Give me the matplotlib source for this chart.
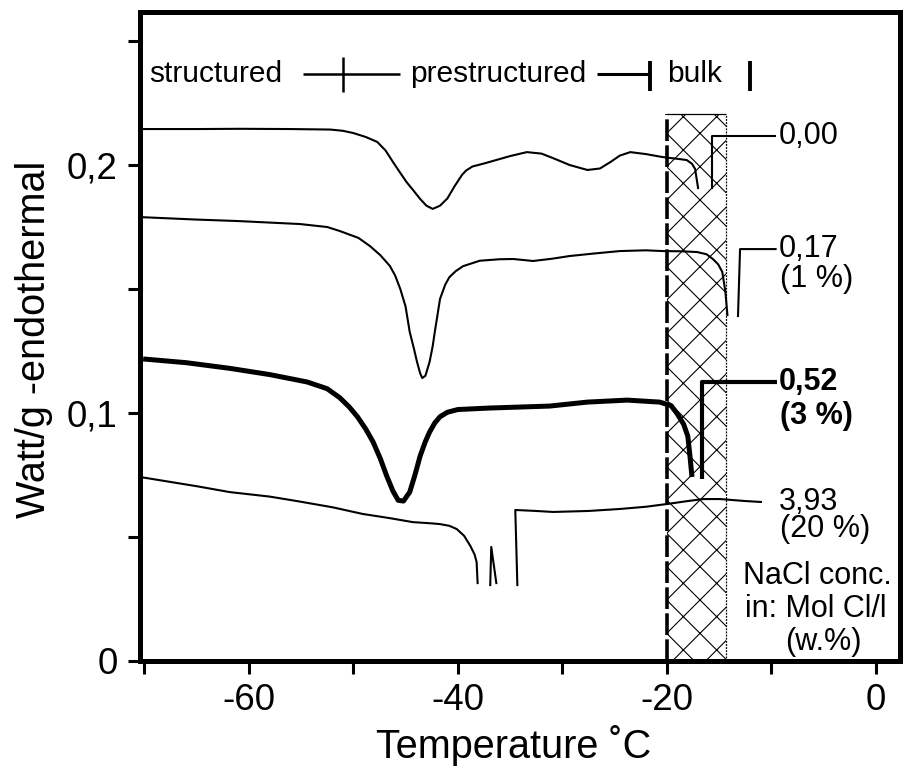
import matplotlib
matplotlib.use("Agg")
import matplotlib.pyplot as plt
from matplotlib.patches import Rectangle

plt.rcParams['font.family'] = ['Liberation Sans', 'DejaVu Sans']
plt.rcParams['hatch.linewidth'] = 0.8
plt.rcParams['lines.solid_joinstyle'] = 'round'
plt.rcParams['lines.solid_capstyle'] = 'butt'

# ---- data (temperature in °C, heat flow in W/g) ----
x_000 = [-70.4, -65.0, -60.8, -56.0, -52.2, -51.0, -50.0, -48.8, -47.7, -46.9, -46.2, -45.5,
         -44.9, -44.2, -43.6, -43.0, -42.4, -41.7, -41.0, -40.3, -39.6, -39.2, -38.6, -37.5,
         -36.5, -35.0, -33.4, -32.0, -30.9, -29.3, -27.6, -26.4, -25.4, -24.5, -23.5,
         -22.0, -20.4, -19.0, -18.1, -17.6, -17.3, -17.0]
y_000 = [0.2145, 0.2145, 0.2146, 0.2145, 0.2143, 0.2138, 0.2129, 0.2113, 0.2093, 0.2058, 0.2012, 0.1968,
         0.1931, 0.1895, 0.1863, 0.1836, 0.1823, 0.1836, 0.1865, 0.1915, 0.1960, 0.1978, 0.1994, 0.2006,
         0.2018, 0.2036, 0.2052, 0.2046, 0.2028, 0.2000, 0.1980, 0.1986, 0.2012, 0.2038, 0.2052,
         0.2044, 0.2032, 0.2025, 0.2020, 0.2005, 0.1984, 0.1903]

x_017 = [-70.4, -65.0, -61.0, -55.1, -52.5, -51.3, -49.5, -48.4, -47.4, -46.5, -46.0, -45.5, -45.0,
         -44.6, -44.2, -43.9, -43.6, -43.4, -43.1, -42.7, -42.4, -42.2, -41.7, -41.2, -40.8, -40.2,
         -39.5, -37.9, -36.0, -34.7, -32.8, -31.0, -29.3, -27.0, -24.5, -22.0, -20.4, -18.5,
         -17.1, -16.2, -15.6, -15.1, -14.7, -14.4, -14.2]
y_017 = [0.1790, 0.1780, 0.1774, 0.1762, 0.1750, 0.1734, 0.1706, 0.1673, 0.1636, 0.1593, 0.1555, 0.1500, 0.1430,
         0.1327, 0.1260, 0.1206, 0.1160, 0.1141, 0.1150, 0.1206, 0.1270, 0.1327, 0.1460, 0.1518, 0.1548, 0.1572,
         0.1592, 0.1614, 0.1620, 0.1621, 0.1613, 0.1622, 0.1633, 0.1643, 0.1653, 0.1656, 0.1653, 0.1652,
         0.1649, 0.1640, 0.1621, 0.1600, 0.1569, 0.1488, 0.1391]

x_052 = [-70.1, -66.0, -61.8, -58.0, -54.4, -52.5, -51.3, -50.4, -49.6, -48.8, -48.1, -47.4,
         -46.8, -46.2, -45.7, -45.2, -44.6, -44.1, -43.6, -43.1, -42.7, -42.2, -41.7, -41.0,
         -40.0, -37.0, -34.1, -31.2, -27.6, -23.8, -20.7, -19.6, -19.0, -18.4, -18.0, -17.8, -17.6]
y_052 = [0.1218, 0.1203, 0.1180, 0.1155, 0.1125, 0.1098, 0.1062, 0.1025, 0.0985, 0.0935, 0.0883, 0.0815,
         0.0746, 0.0685, 0.0648, 0.0645, 0.0681, 0.0750, 0.0827, 0.0885, 0.0923, 0.0960, 0.0985, 0.1003,
         0.1014, 0.1020, 0.1024, 0.1028, 0.1044, 0.1052, 0.1044, 0.1030, 0.0996, 0.0955, 0.0907, 0.0830, 0.0742]

x_393 = [-70.4, -65.0, -61.8, -58.0, -55.4, -52.0, -49.1, -46.5, -44.3, -42.5, -41.7, -40.8,
         -40.1, -39.4, -38.8, -38.4, -38.2, -38.1]
y_393 = [0.0742, 0.0705, 0.0681, 0.0663, 0.0645, 0.0620, 0.0593, 0.0576, 0.0560, 0.0555, 0.0552, 0.0545,
         0.0532, 0.0505, 0.0464, 0.0430, 0.0399, 0.0310]
x_393_spike = [-36.9, -36.8, -36.3]
y_393_spike = [0.0302, 0.0460, 0.0310]
x_393_end = [-34.3, -34.5, -32.5, -30.9, -27.5, -24.5, -22.0, -20.0, -18.0, -16.5, -14.9, -12.5, -10.9]
y_393_end = [0.0302, 0.0609, 0.0605, 0.0601, 0.0605, 0.0613, 0.0622, 0.0633, 0.0645, 0.0653, 0.0653, 0.0645, 0.0641]

# label leader lines
lead_000_x = [-15.7, -15.7, -9.6]
lead_000_y = [0.1903, 0.2117, 0.2117]
lead_017_x = [-13.2, -13.0, -9.5]
lead_017_y = [0.1387, 0.1661, 0.1661]
lead_052_x = [-16.6, -16.6, -9.5]
lead_052_y = [0.0734, 0.1125, 0.1125]

conc_labels = ["0,00", "0,17", "0,52", "3,93"]
pct_labels = ["", "(1 %)", "(3 %)", "(20 %)"]
label_y = [0.2117, 0.1661, 0.1125, 0.0641]
pct_y = [None, 0.1540, 0.0988, 0.0532]

# hatched "bulk transition" band
band_x0, band_x1, band_top = -20.0, -14.35, 0.2206

xticks_major = [-60, -40, -20, 0]
xticks_minor = [-70, -50, -30, -10]
yticks_major = [0, 0.1, 0.2]
yticks_labels = ["0", "0,1", "0,2"]
yticks_minor = [0.05, 0.15, 0.25]

fig = plt.figure(figsize=(9.08, 7.79), dpi=100)
ax = fig.add_axes([140 / 908, 1 - 661 / 779, 760 / 908, 649 / 779])
ax.set_xlim(-70.4, 2.3)
ax.set_ylim(0, 0.2617)

# band
ax.add_patch(Rectangle((band_x0, 0), band_x1 - band_x0, band_top, facecolor='white',
                       edgecolor='black', hatch='x', linewidth=0, zorder=1))
ax.plot([band_x0, band_x1], [band_top, band_top], color='black', lw=0.9, zorder=2)
ax.plot([band_x1, band_x1], [0, band_top], color='black', lw=0.9, ls=(0, (1.5, 1)), zorder=2)
ax.plot([band_x0, band_x0], [0, band_top], color='black', lw=2.6, ls=(0, (6, 1.2)), zorder=2)

# curves
ax.plot(x_000, y_000, color='black', lw=1.5, zorder=3)
ax.plot(x_017, y_017, color='black', lw=1.5, zorder=3)
ax.plot(x_052, y_052, color='black', lw=3.6, zorder=3)
ax.plot(x_393, y_393, color='black', lw=1.5, zorder=3)
ax.plot(x_393_spike, y_393_spike, color='black', lw=1.5, zorder=3)
ax.plot(x_393_end, y_393_end, color='black', lw=1.5, zorder=3)
ax.plot(lead_000_x, lead_000_y, color='black', lw=1.5, zorder=3)
ax.plot(lead_017_x, lead_017_y, color='black', lw=1.5, zorder=3)
ax.plot(lead_052_x, lead_052_y, color='black', lw=3.0, zorder=3)

fs_lab = 22
for i, (t, p, yl, yp) in enumerate(zip(conc_labels, pct_labels, label_y, pct_y)):
    w = 'bold' if i == 2 else 'normal'
    ax.text(-9.3, yl, t, fontsize=fs_lab, ha='left', va='center', fontweight=w, zorder=4)
    if p:
        ax.text(-9.2, yp, p, fontsize=fs_lab, ha='left', va='center', fontweight=w, zorder=4)

ax.text(-5.6, 0.0343, "NaCl conc.", fontsize=fs_lab, ha='center', va='center')
ax.text(-5.8, 0.0210, "in: Mol Cl/l", fontsize=fs_lab, ha='center', va='center')
ax.text(-5.0, 0.0077, "(w.%)", fontsize=fs_lab, ha='center', va='center')

# header: structured --+-- prestructured --| bulk |
yh = 0.2367
ax.text(-69.5, yh, "structured", fontsize=21.5, ha='left', va='center')
ax.plot([-54.8, -45.5], [yh, yh], color='black', lw=1.8)
ax.plot([-51.0, -51.0], [0.2294, 0.2435], color='black', lw=1.8)
ax.text(-44.6, yh, "prestructured", fontsize=21.5, ha='left', va='center')
ax.plot([-26.7, -21.6], [yh, yh], color='black', lw=2.2)
ax.plot([-21.6, -21.6], [0.2298, 0.2419], color='black', lw=2.8)
ax.text(-20.0, yh, "bulk", fontsize=21.5, ha='left', va='center')
ax.plot([-12.05, -12.05], [0.2298, 0.2419], color='black', lw=2.8)

# axes styling
for s in ax.spines.values():
    s.set_linewidth(3.6)
ax.set_xticks(xticks_major)
ax.set_xticklabels([str(v) for v in xticks_major])
ax.set_xticks(xticks_minor, minor=True)
ax.set_yticks(yticks_major)
ax.set_yticklabels(yticks_labels)
ax.set_yticks(yticks_minor, minor=True)
ax.tick_params(which='both', direction='out', length=9, width=2.2, labelsize=26.5)
ax.tick_params(axis='x', pad=7)
ax.tick_params(axis='y', pad=7)

ax.set_ylabel("Watt/g -endothermal", fontsize=28.5)
ax.yaxis.set_label_coords(-0.115, 0.495)
ax.set_xlabel("Temperature \u02daC", fontsize=28.5)
ax.xaxis.set_label_coords(0.491, -0.098)

fig.savefig("out.png", dpi=100)
